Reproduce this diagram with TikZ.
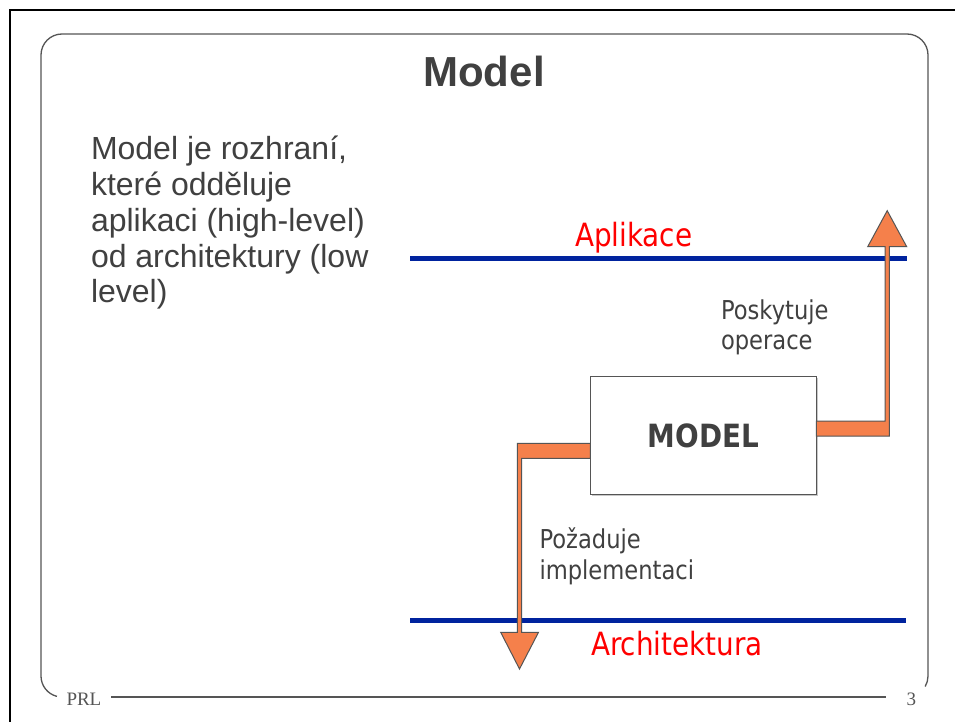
\documentclass[tikz,border=0pt]{standalone}
\usepackage{fontspec}
\setmainfont{Liberation Sans}
\newfontfamily\labelfont[FakeStretch=0.87]{DejaVu Sans}
\newfontfamily\footfont{Liberation Serif}
\definecolor{txtgray}{RGB}{64,64,64}
\definecolor{framegray}{RGB}{85,85,85}
\definecolor{shadowgray}{RGB}{200,200,200}
\definecolor{barblue}{RGB}{0,35,158}
\definecolor{layerred}{RGB}{255,0,0}
\definecolor{arroworange}{RGB}{245,128,75}
\tikzset{
  every node/.style={inner sep=0pt, outer sep=0pt},
  bodytext/.style={anchor=base west, text=txtgray, font=\fontsize{32}{36}\selectfont},
  titletext/.style={anchor=base, text=txtgray, font=\fontsize{42}{46}\selectfont\bfseries},
  layerlabel/.style={anchor=base west, text=layerred, font=\labelfont\fontsize{32}{36}\selectfont},
  notetext/.style={anchor=base west, text=txtgray, font=\labelfont\fontsize{26}{30}\selectfont},
  foottext/.style={anchor=base west, text=framegray, font=\footfont\fontsize{19}{22}\selectfont},
  frameline/.style={draw=framegray, line width=1.3pt},
  layerbar/.style={draw=barblue, line width=5pt},
  modelbox/.style={draw=framegray, line width=1.4pt, fill=white, minimum width=226pt,
    minimum height=117.6pt, text=txtgray, font=\labelfont\fontsize{32}{36}\selectfont\bfseries},
  bentarrow/.style={fill=arroworange, draw=framegray, line width=1pt, line join=miter}
}
\begin{document}
\begin{tikzpicture}[x=1pt, y=1pt]
  % page
  \useasboundingbox (0,0) rectangle (955,-722);
  \fill[white] (0,0) rectangle (955,-722);
  % outer black border (top and left)
  \draw[black, line width=2.2pt] (10,-722) -- (10,-10) -- (955,-10);

  % rounded slide frame, open at the footer
  \draw[frameline] (62,-676) ++(256:21) arc[start angle=256, end angle=180, radius=21]
    -- (41,-55) arc[start angle=180, end angle=90, radius=21]
    -- (907,-34) arc[start angle=90, end angle=0, radius=21]
    -- (928,-676) arc[start angle=0, end angle=-30, radius=21];
  \coordinate (footL) at (111,-697);
  \coordinate (footR) at (886,-697);
  \draw[frameline] (footL) -- (footR);
  \node[foottext] (prl) at (66.5,-705) {PRL};
  \node[foottext] (page) at (906.5,-705) {3};

  % title
  \node[titletext] (title) at (484,-86.7) {Model};

  % left text
  \node[bodytext] (l1) at (91,-159.3) {Model je rozhraní,};
  \node[bodytext] (l2) at (91,-195.3) {které odděluje};
  \node[bodytext] (l3) at (91,-231.2) {aplikaci (high-level)};
  \node[bodytext] (l4) at (91,-267.0) {od architektury (low};
  \node[bodytext] (l5) at (91,-302.7) {level)};

  % layer bars
  \coordinate (appL) at (410,-258.5);
  \coordinate (appR) at (907,-258.5);
  \coordinate (archL) at (410,-620.5);
  \coordinate (archR) at (906,-620.5);
  \draw[layerbar] (appL) -- (appR);
  \draw[layerbar] (archL) -- (archR);
  \node[layerlabel] (app) at (575,-246.7) {Aplikace};
  \node[layerlabel] (arch) at (591,-655.7) {Architektura};

  % model box with faint shadow
  \fill[shadowgray] (591.8,-378.2) rectangle (817.8,-495.8);
  \node[modelbox] (model) at (703.3,-435.5) {MODEL};

  % arrow from the model up to the application layer
  \draw[bentarrow] (model.east |- 0,-421) -- (885,-421) -- (885,-246.7) -- (867.7,-246.7)
    -- (887.2,-210.7) -- (906.7,-246.7) -- (889.4,-246.7) -- (889.4,-436)
    -- (model.east |- 0,-436) -- cycle;
  % arrow from the model down to the architecture layer
  \draw[bentarrow] (model.west |- 0,-443.3) -- (517.3,-443.3) -- (517.3,-632.3) -- (500.7,-632.3)
    -- (519.5,-669) -- (538.5,-632.3) -- (521.7,-632.3) -- (521.7,-458.3)
    -- (model.west |- 0,-458.3) -- cycle;

  % arrow notes
  \node[notetext] (p1) at (721,-319) {Poskytuje};
  \node[notetext] (p2) at (721,-349) {operace};
  \node[notetext] (q1) at (539.5,-548.3) {Požaduje};
  \node[notetext] (q2) at (539.5,-579.3) {implementaci};
\end{tikzpicture}
\end{document}
